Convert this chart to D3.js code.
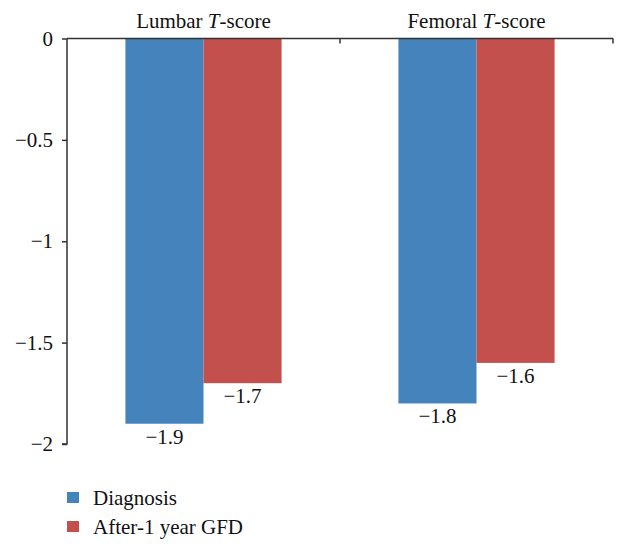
<!DOCTYPE html>
<html><head><meta charset="utf-8">
<script src="https://cdn.jsdelivr.net/npm/d3@7"></script>
<style>body{margin:0;background:#fff} svg text{font-family:'Liberation Serif','DejaVu Serif',serif}</style>
</head><body>
<script>
const categories = ["Lumbar", "Femoral"];
const series = ["Diagnosis", "After-1 year GFD"];
const diagnosis = [-1.9, -1.8];
const afterGFD = [-1.7, -1.6];
const yTicks = [0, -0.5, -1, -1.5, -2];
const colors = ["#4583BD", "#C4504D"];

const W = 628, H = 551;
const FS = 21;
const svg = d3.select("body").append("svg").attr("width", W).attr("height", H);

const x0 = d3.scaleBand().domain(categories).range([67, 613]).paddingInner(0).paddingOuter(0);
const y = d3.scaleLinear().domain([0, -2]).range([38.5, 444]);
const groupW = x0.bandwidth() * 0.572;
const x1 = d3.scaleBand().domain(series).range([0, groupW]);

const data = categories.map((c, i) => ({cat: c, vals: [diagnosis[i], afterGFD[i]]}));

const g = svg.append("g");
data.forEach(d => {
  const off = x0(d.cat) + (x0.bandwidth() - groupW) / 2;
  d.vals.forEach((v, j) => {
    g.append("rect")
      .attr("x", off + x1(series[j]))
      .attr("y", y(0))
      .attr("width", x1.bandwidth())
      .attr("height", y(v) - y(0))
      .attr("fill", colors[j]);
    g.append("text")
      .attr("x", off + x1(series[j]) + x1.bandwidth() / 2)
      .attr("y", y(v) + 20)
      .attr("text-anchor", "middle")
      .attr("font-size", FS)
      .attr("fill", "#111")
      .text("\u2212" + Math.abs(v).toFixed(1));
  });
  const t = svg.append("text")
    .attr("x", x0(d.cat) + x0.bandwidth() / 2)
    .attr("y", 28)
    .attr("text-anchor", "middle")
    .attr("font-size", FS)
    .attr("fill", "#111");
  t.append("tspan").text(d.cat + " ");
  t.append("tspan").attr("font-style", "italic").text("T");
  t.append("tspan").text("-score");
});

const yAxis = d3.axisLeft(y).tickValues(yTicks).tickSize(5).tickPadding(9)
  .tickFormat(v => v === 0 ? "0" : "\u2212" + d3.format("")(Math.abs(v)));
const ya = svg.append("g").attr("transform", "translate(67,0)").call(yAxis);
ya.selectAll("text").attr("font-size", FS).attr("fill", "#111");
ya.selectAll("line").attr("stroke", "#333").attr("stroke-width", 1.5);
ya.select(".domain").attr("stroke", "#333").attr("stroke-width", 1.5).attr("d", `M-5,${y(-2)}H0V${y(0)}`);

const xa = svg.append("g").attr("transform", `translate(0,${y(0)})`);
xa.append("line").attr("x1", 67).attr("x2", 613).attr("stroke", "#333").attr("stroke-width", 1.5);
[x0("Femoral"), 613].forEach(xx => {
  xa.append("line").attr("x1", xx).attr("x2", xx).attr("y1", 0).attr("y2", 5)
    .attr("stroke", "#333").attr("stroke-width", 1.5);
});

const leg = svg.append("g");
series.forEach((s, i) => {
  leg.append("rect").attr("x", 67).attr("y", 492 + i * 29).attr("width", 12).attr("height", 11).attr("fill", colors[i]);
  leg.append("text").attr("x", 93).attr("y", 505 + i * 29).attr("font-size", FS).attr("fill", "#111").text(s);
});
</script>
</body></html>
